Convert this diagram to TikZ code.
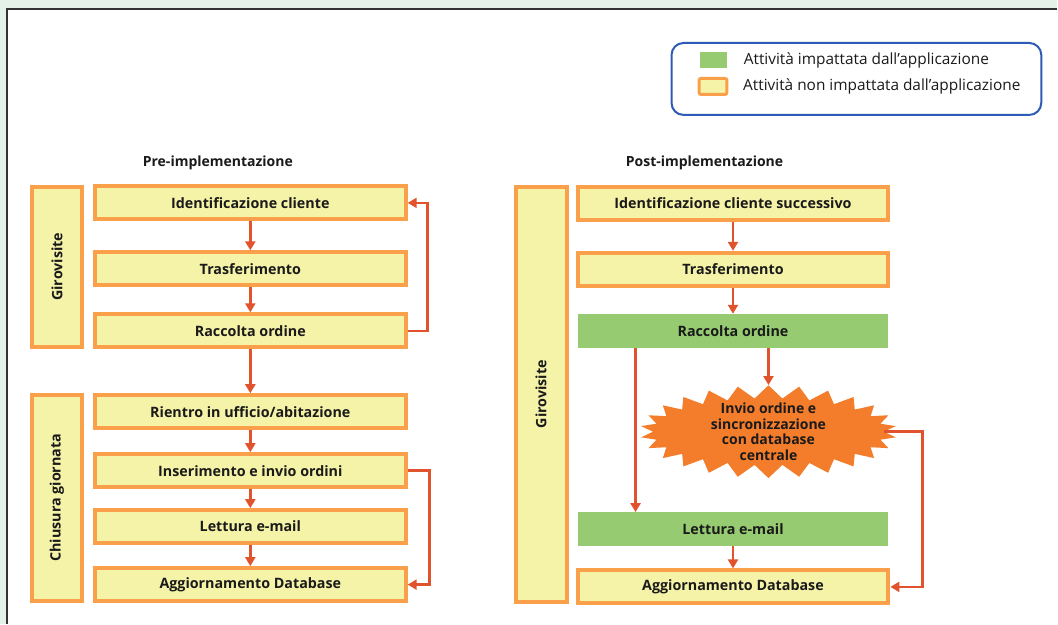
\documentclass[tikz,border=0pt]{standalone}
\usepackage{fontspec}
\setmainfont{Open Sans}
\usetikzlibrary{positioning,arrows.meta,shapes.symbols}
\definecolor{bgGreen}{HTML}{E4F2E8}
\definecolor{yelFill}{HTML}{F5F3A8}
\definecolor{orgLine}{HTML}{FAA04B}
\definecolor{grnFill}{HTML}{96CB72}
\definecolor{arrRed}{HTML}{E1532C}
\definecolor{starOrg}{HTML}{F47D2B}
\definecolor{legBlue}{HTML}{2D5BB5}
\definecolor{txtDark}{HTML}{1A1A1A}
\tikzset{
  plainbox/.style={draw=orgLine,line width=4pt,fill=yelFill,minimum width=311pt,minimum height=33pt,
    inner sep=0pt,text=txtDark,font=\bfseries\fontsize{14.3}{16}\selectfont},
  appbox/.style={fill=grnFill,minimum width=311pt,minimum height=34pt,
    inner sep=0pt,text=txtDark,font=\bfseries\fontsize{14.3}{16}\selectfont},
  sidebox/.style={draw=orgLine,line width=4pt,fill=yelFill,rotate=90,minimum height=50pt,
    inner sep=0pt,text=txtDark,font=\bfseries\fontsize{14.3}{16}\selectfont},
  phase/.style={inner sep=0pt,text=txtDark,font=\bfseries\fontsize{14}{16}\selectfont},
  legtext/.style={inner sep=0pt,text=txtDark,font=\fontsize{15.4}{18}\selectfont},
  flow/.style={draw=arrRed,line width=2.5pt,-{Triangle[length=9pt,width=10pt]}},
}
\begin{document}
\begin{tikzpicture}[x=1pt,y=-1pt,node distance=22pt]
  % cornice
  \fill[bgGreen] (0,0) rectangle (1058,624);
  \fill[white] (7,9) rectangle (1058,624);
  \draw[black!80,line width=1.5pt] (1058,9) -- (7,9) -- (7,624);
  \useasboundingbox (0,0) rectangle (1058,624);

  % legenda
  \node[draw=legBlue,line width=2pt,rounded corners=12pt,minimum width=370pt,minimum height=72pt] (legend) at (857,79) {};
  \node[fill=grnFill,minimum width=28pt,minimum height=16pt] (swapp) at (714,60) {};
  \node[draw=orgLine,line width=3pt,fill=yelFill,rounded corners=2pt,minimum width=28pt,minimum height=16pt] (swno) at (713.5,86.5) {};
  \node[legtext,right=16pt of swapp] (lapp) {Attività impattata dall’applicazione};
  \node[legtext,right=14.5pt of swno] (lno) {Attività non impattata dall’applicazione};

  % pre-implementazione
  \node[phase] (pretit) at (218,163) {Pre-implementazione};
  \node[plainbox] (idc) at (250.5,203) {Identificazione cliente};
  \node[plainbox,below=29pt of idc] (tras) {Trasferimento};
  \node[plainbox,below=25pt of tras] (racc) {Raccolta ordine};
  \node[plainbox,below=44pt of racc] (rien) {Rientro in ufficio/abitazione};
  \node[plainbox,below=of rien] (ins) {Inserimento e invio ordini};
  \node[plainbox,below=19pt of ins] (lett) {Lettura e-mail};
  \node[plainbox,below=21pt of lett] (agg) {Aggiornamento Database};
  \node[sidebox,minimum width=160pt] (giro) at (57,267) {Girovisite};
  \node[sidebox,minimum width=206pt] (chius) at (57,498) {Chiusura giornata};

  \draw[flow] (idc) -- (tras);
  \draw[flow] (tras) -- (racc);
  \draw[flow] (racc) -- (rien);
  \draw[flow] (rien) -- (ins);
  \draw[flow] (ins) -- (lett);
  \draw[flow] (lett) -- (agg);
  \draw[flow] (racc.east) -- ++(20,0) |- (idc.east);
  \draw[flow] (ins.east) -- ++(22,0) |- (agg.east);

  % post-implementazione
  \node[phase] (posttit) at (705,163) {Post-implementazione};
  \node[plainbox] (idcb) at (733.5,203.5) {Identificazione cliente successivo};
  \node[plainbox,below=29pt of idcb] (trasb) {Trasferimento};
  \node[appbox,below=26pt of trasb] (raccb) {Raccolta ordine};
  \node[starburst,random starburst=0,starburst points=26,starburst point height=13pt,
    fill=starOrg,inner xsep=24pt,inner ysep=-5pt,align=center,text=txtDark,
    font=\bfseries\fontsize{14}{15.5}\selectfont] (sync) at (769,432)
    {Invio ordine e\\sincronizzazione\\con database\\centrale};
  \node[appbox,below=164pt of raccb] (lettb) {Lettura e-mail};
  \node[plainbox,below=22pt of lettb] (aggb) {Aggiornamento Database};
  \node[sidebox,minimum width=415pt,minimum height=51pt] (girob) at (541.5,394.5) {Girovisite};
  \coordinate (loopx) at (923,0);

  \draw[flow] (idcb) -- (trasb);
  \draw[flow] (trasb) -- (raccb);
  \draw[flow] (sync.north |- raccb.south) -- (sync.north);
  \draw[flow] ([xshift=-97.5pt]raccb.south) -- ([xshift=-97.5pt]lettb.north);
  \draw[flow] (lettb) -- (aggb);
  \draw[flow] (sync.east) -- (sync.east -| loopx) |- (aggb.east);
\end{tikzpicture}
\end{document}
